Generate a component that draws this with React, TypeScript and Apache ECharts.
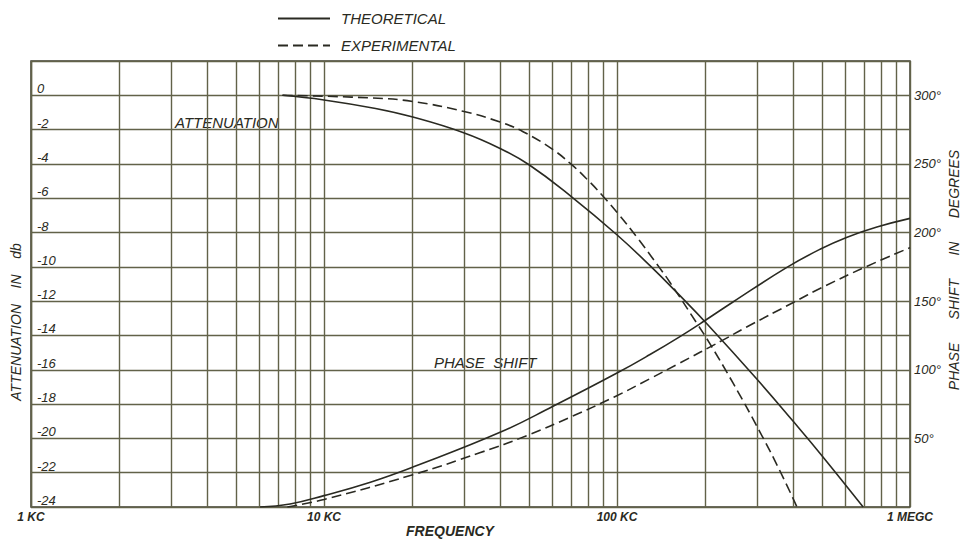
import React, { useEffect, useRef } from "react";
import * as echarts from "echarts";

// Frequencies in Hz
const attTheoFreq = [7200, 10000, 15000, 20100, 29800, 39900, 50100, 70000, 99900, 129600, 164000, 203000, 300000, 400000, 503000, 692000];
const attTheoDb = [0, -0.27, -0.77, -1.27, -2.17, -3.1, -4.05, -5.92, -8.13, -9.93, -11.68, -13.33, -16.54, -19.02, -21.05, -24];

const attExpFreq = [7240, 14400, 20100, 29800, 39900, 47800, 60500, 70200, 79000, 89600, 100800, 117000, 140200, 151700, 187000, 207700, 248800, 307600, 359900, 411500];
const attExpDb = [0, -0.15, -0.36, -0.93, -1.56, -2.12, -3.17, -4.06, -4.89, -5.88, -6.89, -8.28, -10.09, -10.91, -13.27, -14.49, -16.77, -19.63, -21.9, -24];

const phaseTheoFreq = [6050, 7660, 10000, 14400, 20100, 39900, 60500, 100000, 129600, 164000, 199700, 248800, 380000, 493000, 610000, 771000, 1000000];
const phaseTheoDeg = [0, 2.2, 8.3, 18.1, 29.1, 54.4, 73.4, 97.6, 111.1, 124.2, 135.9, 149.4, 174.6, 187.8, 196.6, 204, 210.3];

const phaseExpFreq = [7500, 10000, 20100, 34000, 49500, 70000, 97500, 129600, 159800, 230600, 277000, 399700, 499000, 703000, 1000000];
const phaseExpDeg = [0, 5.5, 23.5, 39.5, 52.2, 65.9, 80, 93.5, 103.7, 121.8, 131.2, 149, 159.8, 174.8, 189];

// Axis ticks and labels
const xTickValues = [1000, 10000, 100000, 1000000];
const xTickLabels = ["1 KC", "10 KC", "100 KC", "1 MEGC"];
const minorFreqs = [
  2000, 3000, 4000, 5000, 6000, 7000, 8000, 9000,
  20000, 30000, 40000, 50000, 60000, 70000, 80000, 90000,
  200000, 300000, 400000, 500000, 600000, 700000, 800000, 900000,
];
const phaseTickLabels = [50, 100, 150, 200, 250, 300];

const GRID = "#626249";
const INK = "#2a2a22";
const FONT = "'Liberation Sans', 'DejaVu Sans', sans-serif";

const zip = (a: number[], b: number[]) => a.map((v, i) => [v, b[i]]);

export default function App() {
  const ref = useRef<HTMLDivElement>(null);
  useEffect(() => {
    const chart = echarts.init(ref.current!, null, { renderer: "svg" });
    const txt = { fontFamily: FONT, fontStyle: "italic", color: INK };
    const lineBase = { type: "line", smooth: 0.45, symbol: "none", itemStyle: { color: INK } };
    chart.setOption({
      animation: false,
      backgroundColor: "#ffffff",
      grid: { left: 31, right: 52, top: 61, bottom: 35, show: true, borderColor: "#3c3c30", borderWidth: 1.5 },
      legend: {
        data: ["THEORETICAL", "EXPERIMENTAL"],
        orient: "vertical",
        left: 272,
        top: 6,
        itemWidth: 52,
        itemHeight: 14,
        itemGap: 12,
        itemStyle: { opacity: 0 },
        textStyle: { ...txt, fontSize: 15, padding: [0, 0, 0, 6] },
      },
      xAxis: {
        type: "log",
        logBase: 10,
        min: 1000,
        max: 1000000,
        axisLine: { show: false },
        axisTick: { show: false },
        splitLine: { show: true, lineStyle: { color: GRID, width: 1.4 } },
        axisLabel: {
          ...txt,
          fontSize: 12,
          fontWeight: "bold",
          margin: 4,
          alignMinLabel: "left",
          formatter: (v: number) => {
            const i = xTickValues.findIndex((t) => Math.abs(t - v) / t < 1e-6);
            return i >= 0 ? xTickLabels[i] : "";
          },
        },
      },
      yAxis: [
        {
          type: "value",
          min: -24,
          max: 2,
          interval: 2,
          position: "left",
          axisLine: { show: false },
          axisTick: { show: false },
          splitLine: { show: true, lineStyle: { color: GRID, width: 1.4 } },
          axisLabel: {
            ...txt,
            fontSize: 13,
            inside: true,
            margin: 6,
            verticalAlign: "bottom",
            formatter: (v: number) => (v > 0 ? "" : String(v)),
          },
        },
        {
          type: "value",
          min: 0,
          max: 325,
          interval: 50,
          position: "right",
          axisLine: { show: false },
          axisTick: { show: false },
          splitLine: { show: false },
          axisLabel: {
            ...txt,
            fontSize: 13,
            margin: 4,
            formatter: (v: number) => (phaseTickLabels.indexOf(v) >= 0 ? v + "°" : ""),
          },
        },
      ],
      graphic: [
        { type: "text", left: 175, top: 115, style: { text: "ATTENUATION", font: `italic 15px ${FONT}`, fill: INK } },
        { type: "text", left: 434, top: 355, style: { text: "PHASE  SHIFT", font: `italic 15px ${FONT}`, fill: INK } },
        { type: "text", x: 450, y: 531, style: { text: "FREQUENCY", font: `italic bold 14px ${FONT}`, fill: INK, align: "center", verticalAlign: "middle" } },
        { type: "text", x: 16, y: 322, rotation: Math.PI / 2, style: { text: "ATTENUATION    IN    db", font: `italic 14px ${FONT}`, fill: INK, align: "center", verticalAlign: "middle" } },
        { type: "text", x: 954, y: 270, rotation: Math.PI / 2, style: { text: "PHASE      SHIFT      IN      DEGREES", font: `italic 14px ${FONT}`, fill: INK, align: "center", verticalAlign: "middle" } },
      ],
      series: [
        {
          ...lineBase,
          name: "THEORETICAL",
          yAxisIndex: 0,
          data: zip(attTheoFreq, attTheoDb),
          lineStyle: { color: INK, width: 1.6, type: "solid" },
          markLine: {
            silent: true,
            z: 1,
            symbol: ["none", "none"],
            label: { show: false },
            lineStyle: { color: GRID, width: 1.4, type: "solid" },
            emphasis: { disabled: true },
            data: minorFreqs.map((f) => ({ xAxis: f })),
          },
        },
        {
          ...lineBase,
          name: "EXPERIMENTAL",
          yAxisIndex: 0,
          data: zip(attExpFreq, attExpDb),
          lineStyle: { color: INK, width: 1.6, type: [10, 5] },
        },
        {
          ...lineBase,
          name: "THEORETICAL",
          yAxisIndex: 1,
          data: zip(phaseTheoFreq, phaseTheoDeg),
          lineStyle: { color: INK, width: 1.6, type: "solid" },
        },
        {
          ...lineBase,
          name: "EXPERIMENTAL",
          yAxisIndex: 1,
          data: zip(phaseExpFreq, phaseExpDeg),
          lineStyle: { color: INK, width: 1.6, type: [10, 5] },
        },
      ],
    });
    return () => chart.dispose();
  }, []);
  return (
    <div
      ref={ref}
      style={{ position: "fixed", left: 0, top: 0, width: 962, height: 542, background: "#fff" }}
    />
  );
}
